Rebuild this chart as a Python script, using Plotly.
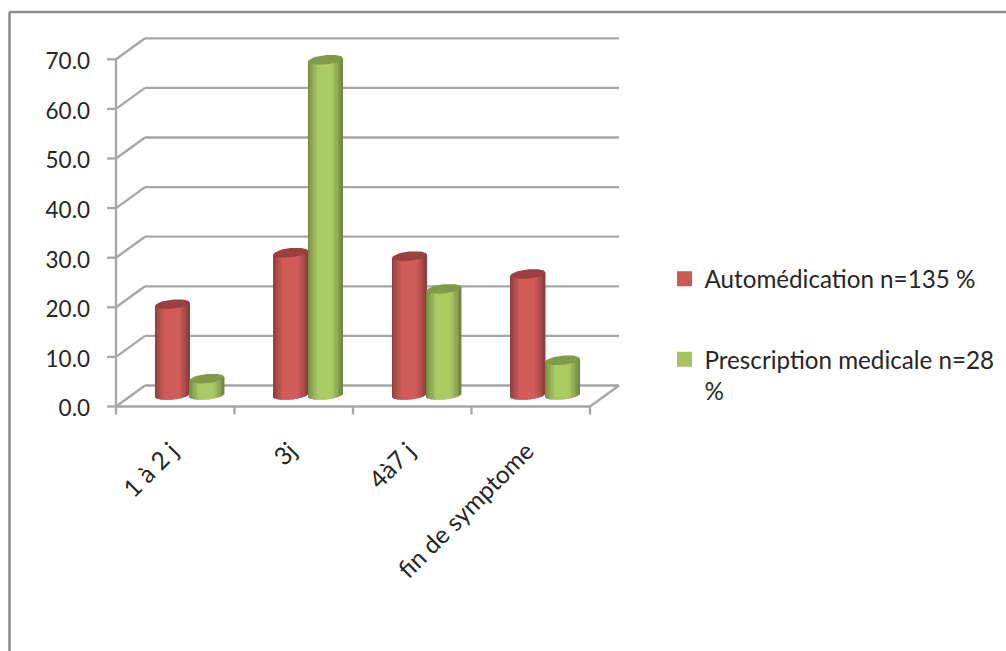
import numpy as np
import plotly.graph_objects as go

categories = ["1 à 2 j", "3j", "4à7 j", "fin de symptome"]
auto_values = [18.3, 28.7, 28.0, 24.4]
presc_values = [3.3, 67.6, 21.4, 7.0]
y_ticks = [0, 10, 20, 30, 40, 50, 60, 70]
y_labels = ["0.0", "10.0", "20.0", "30.0", "40.0", "50.0", "60.0", "70.0"]
auto_name = "Automédication n=135 %"
presc_name = "Prescription medicale n=28<br>%"

W, H = 1006, 651
PX_X0, PX_PER_CAT = 175.25, 118.5     # pixel of category 0, pixels per category
PX_Y0, PX_PER_UNIT = 406.5, 4.96      # pixel of value 0, pixels per unit
def ux(px): return px / PX_PER_CAT
def uy(px): return px / PX_PER_UNIT

x_range = [-PX_X0 / PX_PER_CAT, (W - PX_X0) / PX_PER_CAT]
y_range = [(PX_Y0 - H) / PX_PER_UNIT, PX_Y0 / PX_PER_UNIT]

DX, DY = ux(29), uy(21)               # depth of the box
x_left, x_right = -0.5, len(categories) - 0.5
GRID = "#a6a6a6"
shapes = []
def seg(x0, y0, x1, y1, color=GRID, width=2.3):
    shapes.append(dict(type="line", xref="x", yref="y", layer="below", x0=x0, y0=y0, x1=x1, y1=y1,
                       line=dict(color=color, width=width)))

for v in y_ticks:
    seg(x_left, v, x_left + DX, v + DY)
    seg(x_left + DX, v + DY, x_right + DX, v + DY)
    seg(x_left - ux(9), v, x_left, v)
seg(x_left, 0, x_left, y_ticks[-1])
seg(x_left, 0, x_right, 0)
seg(x_right, 0, x_right + DX, DY)
for i in range(len(categories) + 1):
    seg(x_left + i, 0, x_left + i, -uy(8))

# chart frame
FRAME = "#8c8c8c"
shapes.append(dict(type="line", xref="paper", yref="paper", x0=9.5 / W, x1=1, y0=1 - 12 / H, y1=1 - 12 / H,
                   line=dict(color=FRAME, width=2.5)))
shapes.append(dict(type="line", xref="paper", yref="paper", x0=9.5 / W, x1=9.5 / W, y0=0, y1=1 - 12 / H,
                   line=dict(color=FRAME, width=2.5)))

fig = go.Figure()

CYL_HW = ux(17.25)
CYL_B = uy(4.6)
CYL_K = uy(1.6)
BASE = uy(11.5)
OFFSET = ux(14.5)
N = 26
stops_t = [0, 0.1, 0.3, 0.7, 0.9, 1]
stops_s = [0.66, 0.8, 1, 1, 0.8, 0.64]
frac = (np.arange(N) + 0.5) / N
t = frac * 2 - 1
shade = np.interp(frac, stops_t, stops_s)
u = np.linspace(0, 2 * np.pi, 60)

def cylinders(values, center_shift, bright, cap):
    centers = np.arange(len(values)) + center_shift
    vals = np.array(values, dtype=float)
    for i in range(N):
        c = tuple(int(round(b * shade[i])) for b in bright)
        low = BASE - CYL_B * np.sqrt(1 - t[i] ** 2) + CYL_K * t[i]
        top = vals + BASE + CYL_K * t[i]
        fig.add_trace(go.Bar(x=centers + t[i] * CYL_HW, y=top - low, base=[low] * len(vals),
                             width=2.6 * CYL_HW / N, marker=dict(color="rgb(%d,%d,%d)" % c, line_width=0),
                             showlegend=False, hoverinfo="skip"))
    for cx, v in zip(centers, vals):
        fig.add_trace(go.Scatter(x=cx + CYL_HW * np.cos(u),
                                 y=v + BASE + CYL_K * np.cos(u) + CYL_B * np.sin(u),
                                 mode="lines", fill="toself", fillcolor=cap, line=dict(width=0, color=cap),
                                 showlegend=False, hoverinfo="skip"))

cylinders(auto_values, OFFSET - CYL_HW, (208, 92, 89), "#9b403e")
cylinders(presc_values, OFFSET + CYL_HW, (170, 202, 100), "#7f9b48")

for name, col, grp in [(auto_name, "#cb5a57", "a"), (presc_name, "#a5c35e", "b")]:
    fig.add_trace(go.Scatter(x=[None], y=[None], mode="markers", name=name, legendgroup=grp,
                             marker=dict(symbol="square", size=15, color=col)))

FONT = "Lato, Carlito, Calibri, sans-serif"
fig.update_layout(
    width=W, height=H, margin=dict(l=0, r=0, t=0, b=0), autosize=False,
    paper_bgcolor="white", plot_bgcolor="white", barmode="overlay", shapes=shapes,
    font=dict(family=FONT, size=22.5, color="#262626"),
    legend=dict(x=664.5 / W, y=1 - 256.5 / H, xanchor="left", yanchor="top", tracegroupgap=46,
                bgcolor="rgba(0,0,0,0)", itemsizing="trace", font=dict(size=24.2), itemwidth=30,
                valign="top"),
    xaxis=dict(range=x_range, tickvals=list(range(len(categories))), ticktext=categories, tickangle=-45,
               showgrid=False, zeroline=False, showline=False, ticks="", anchor="free",
               side="bottom", domain=[0, 1], automargin=False, tickfont=dict(size=24.5),
               ticklabelshift=-4),
    yaxis=dict(range=y_range, tickvals=y_ticks, ticktext=y_labels, showgrid=False, zeroline=False,
               showline=False, ticks="", anchor="free", position=90 / W, automargin=False,
               ticklabelshift=2),
)
fig.update_xaxes(position=(H - 431) / H)
fig.write_html("out.html", config=dict(displayModeBar=False), post_script="document.body.style.margin='0';")
